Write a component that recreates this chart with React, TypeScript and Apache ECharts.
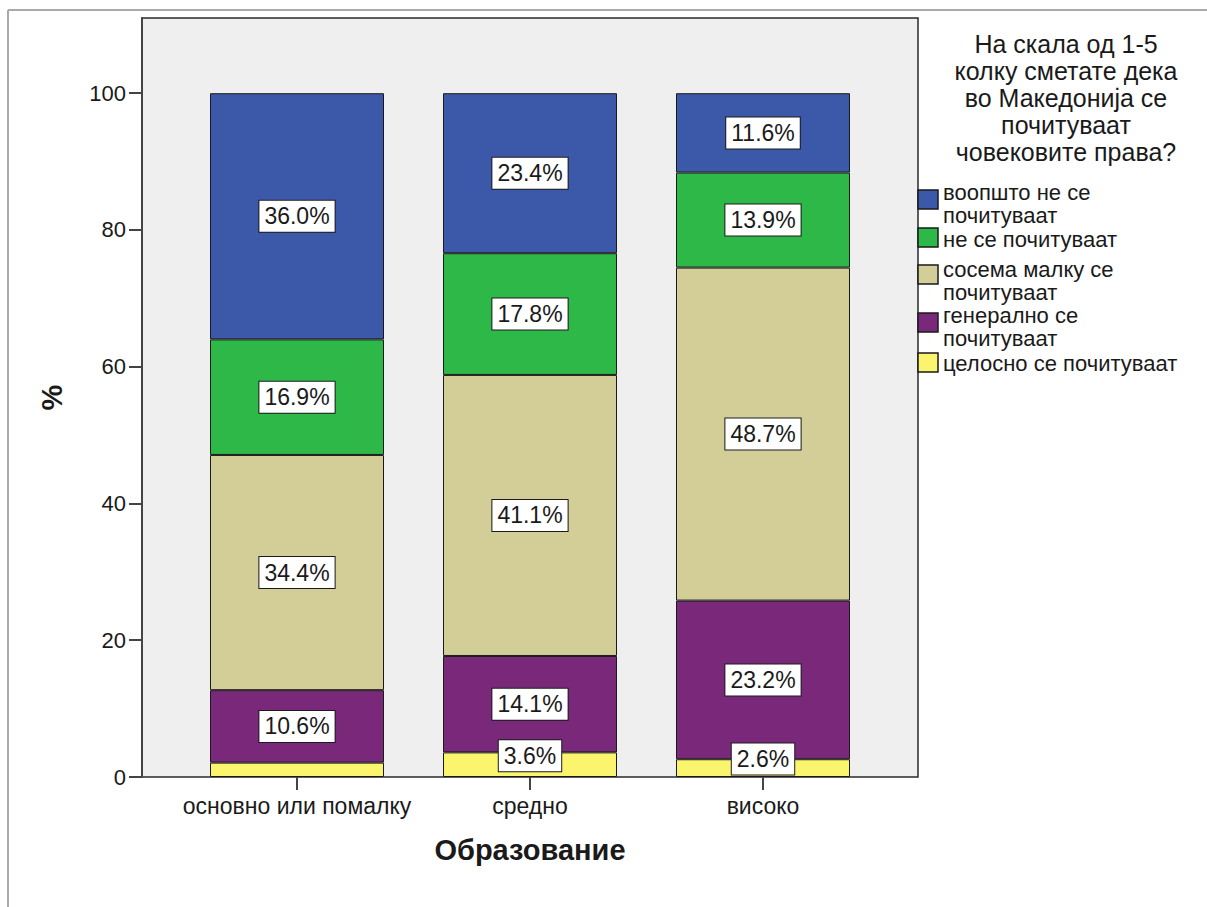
import React, { useEffect, useRef } from "react";
import * as echarts from "echarts";

const categories = ["основно или помалку", "средно", "високо"];
const seriesNames = [
  "целосно се почитуваат",
  "генерално се почитуваат",
  "сосема малку се почитуваат",
  "не се почитуваат",
  "воопшто не се почитуваат",
];
const legendLabels = [
  "целосно се почитуваат",
  "генерално се\nпочитуваат",
  "сосема малку се\nпочитуваат",
  "не се почитуваат",
  "воопшто не се\nпочитуваат",
];
const yellowValues = [2.1, 3.6, 2.6];
const purpleValues = [10.6, 14.1, 23.2];
const khakiValues = [34.4, 41.1, 48.7];
const greenValues = [16.9, 17.8, 13.9];
const blueValues = [36.0, 23.4, 11.6];
const yTicks = [0, 20, 40, 60, 80, 100];
const legendTitle = "На скала од 1-5\nколку сметате дека\nво Македонија се\nпочитуваат\nчовековите права?";
const xTitle = "Образование";
const yTitle = "%";

const seriesValues = [yellowValues, purpleValues, khakiValues, greenValues, blueValues];
const colors = ["#fbf56e", "#7a287a", "#d3ce98", "#2eb848", "#3c58a8"];

const FONT = "'Liberation Sans', Arial, sans-serif";
const TXT = "#1a1a1a";

export default function App() {
  const ref = useRef<HTMLDivElement>(null);
  useEffect(() => {
    if (!ref.current) return;
    const chart = echarts.init(ref.current, null, { renderer: "svg" });

    const series = seriesValues.map((vals, i) => ({
      name: seriesNames[i],
      type: "bar",
      stack: "total",
      xAxisIndex: 1,
      yAxisIndex: 1,
      barWidth: 174,
      itemStyle: { color: colors[i], borderColor: TXT, borderWidth: 1 },
      label: {
        show: true,
        position: "inside",
        formatter: (p: any) => p.value.toFixed(1) + "%",
        fontSize: 23,
        fontFamily: FONT,
        color: TXT,
        backgroundColor: "#ffffff",
        borderColor: TXT,
        borderWidth: 1,
        padding: [5, 5, 3, 5],
      },
      data: vals.map((v) => ({
        value: v,
        label: { show: v >= 2.5, offset: v < 5 ? [0, -9] : [0, 0] },
      })),
    }));

    // legend (drawn manually, top to bottom = reversed stack order)
    const swatchTops = [190, 228, 265, 313, 353];
    const textTops = [181, 228, 258, 304, 352];
    const legendEls: any[] = [];
    for (let k = 0; k < seriesNames.length; k++) {
      const i = seriesNames.length - 1 - k;
      legendEls.push({
        type: "rect",
        shape: { x: 918, y: swatchTops[k], width: 20, height: 19 },
        style: { fill: colors[i], stroke: TXT, lineWidth: 1.5 },
      });
      legendEls.push({
        type: "text",
        x: 943,
        y: textTops[k],
        style: {
          text: legendLabels[i],
          fontSize: 22,
          fontFamily: FONT,
          fill: TXT,
          lineHeight: 23,
          verticalAlign: "top",
          align: "left",
        },
      });
    }

    chart.setOption({
      animation: false,
      backgroundColor: "#ffffff",
      textStyle: { fontFamily: FONT },
      grid: [
        {
          left: 142,
          top: 18,
          right: 289,
          bottom: 130,
          show: true,
          backgroundColor: "#efefef",
          borderColor: "#2a2a2a",
          borderWidth: 1.5,
        },
        { left: 180.5, top: 18, right: 327.5, bottom: 130 },
      ],
      xAxis: [
        { gridIndex: 0, type: "value", show: false, min: 0, max: 1 },
        {
          gridIndex: 1,
          type: "category",
          data: categories,
          axisLine: { show: false },
          axisTick: { show: true, alignWithLabel: true, length: 13, lineStyle: { color: "#444", width: 2 } },
          axisLabel: { interval: 0, margin: 17, fontSize: 23, color: TXT, fontFamily: FONT },
          name: xTitle,
          nameLocation: "middle",
          nameGap: 58,
          nameTextStyle: { fontSize: 29, fontWeight: "bold", color: TXT, fontFamily: FONT },
        },
      ],
      yAxis: [
        {
          gridIndex: 0,
          type: "value",
          min: 0,
          max: 111,
          interval: 20,
          axisLine: { show: true, lineStyle: { color: "#444", width: 2 } },
          axisTick: { show: true, length: 13, customValues: yTicks, lineStyle: { color: "#444", width: 2 } },
          axisLabel: { margin: 16, fontSize: 22, color: TXT, fontFamily: FONT, customValues: yTicks },
          splitLine: { show: false },
          name: yTitle,
          nameLocation: "middle",
          nameGap: 76,
          nameTextStyle: { fontSize: 29, fontWeight: "bold", color: TXT, fontFamily: FONT },
        },
        { gridIndex: 1, type: "value", min: 0, max: 111, show: false },
      ],
      series,
      graphic: [
        { type: "line", shape: { x1: 8, y1: 10, x2: 1207, y2: 10 }, style: { stroke: "#aaaaaa", lineWidth: 2 } },
        { type: "line", shape: { x1: 8, y1: 10, x2: 8, y2: 907 }, style: { stroke: "#aaaaaa", lineWidth: 2 } },
        {
          type: "text",
          x: 1066,
          y: 30,
          style: {
            text: legendTitle,
            fontSize: 25,
            fontFamily: FONT,
            fill: TXT,
            lineHeight: 27,
            align: "center",
            verticalAlign: "top",
          },
        },
        ...legendEls,
      ],
    });
    return () => chart.dispose();
  }, []);
  return (
    <div
      ref={ref}
      style={{ position: "fixed", left: 0, top: 0, width: 1207, height: 907 }}
    />
  );
}
